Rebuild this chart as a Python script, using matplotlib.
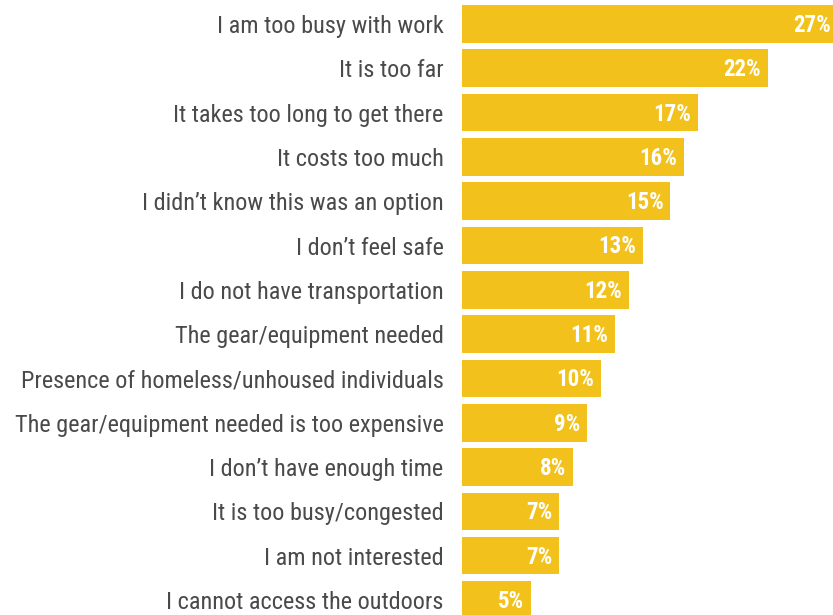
import matplotlib
matplotlib.use("Agg")
import matplotlib.pyplot as plt
from matplotlib import font_manager

reasons = [
    "I am too busy with work",
    "It is too far",
    "It takes too long to get there",
    "It costs too much",
    "I didn\u2019t know this was an option",
    "I don\u2019t feel safe",
    "I do not have transportation",
    "The gear/equipment needed",
    "Presence of homeless/unhoused individuals",
    "The gear/equipment needed is too expensive",
    "I don\u2019t have enough time",
    "It is too busy/congested",
    "I am not interested",
    "I cannot access the outdoors",
]
shares = [27, 22, 17, 16, 15, 13, 12, 11, 10, 9, 8, 7, 7, 5]

names = {f.name for f in font_manager.fontManager.ttflist}
fam = "Roboto Condensed" if "Roboto Condensed" in names else "Roboto"
plt.rcParams["font.family"] = [fam, "DejaVu Sans"]

bar_color = "#F2C11C"
text_color = "#4A4A4A"

fig = plt.figure(figsize=(8.33, 6.15), dpi=100)
ax = fig.add_axes([461.5 / 833, 0, 1 - 461.5 / 833, 1])

ypos = list(range(len(reasons)))
ax.barh(ypos, shares, height=0.85, color=bar_color)

for y, v in zip(ypos, shares):
    ax.annotate(f"{v}%", xy=(v, y), xytext=(-5, -1), textcoords="offset points",
                ha="right", va="center", color="white", fontsize=16.5,
                fontweight="bold", annotation_clip=False)

ax.set_xlim(0, 26.67)
ax.set_ylim(13.34, -0.542)
ax.set_yticks(ypos)
ax.set_yticklabels(reasons, fontsize=17.5, color=text_color)
ax.tick_params(axis="y", length=0, pad=13)
ax.set_xticks([])
for s in ax.spines.values():
    s.set_visible(False)

fig.savefig("out.png", dpi=100)
